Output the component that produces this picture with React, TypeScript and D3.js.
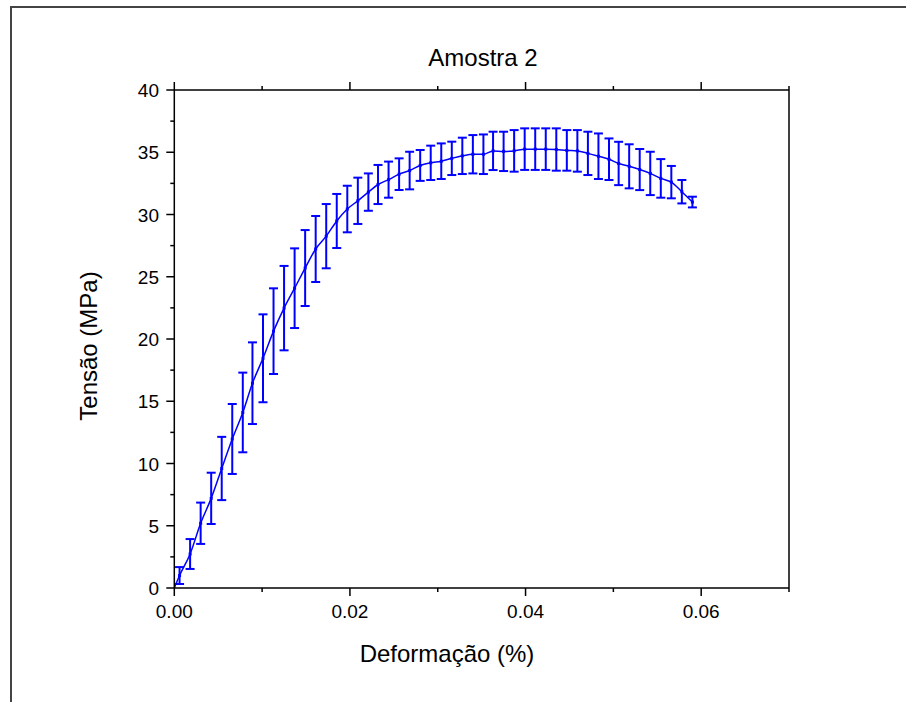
import React from "react";
import * as d3 from "d3";

const strain = [
  0.0006, 0.0018, 0.003, 0.0042, 0.0054, 0.0066, 0.0078, 0.0089, 0.0101, 0.0113,
  0.0125, 0.0137, 0.0149, 0.0161, 0.0173, 0.0185, 0.0197, 0.0209, 0.0221, 0.0232,
  0.0244, 0.0256, 0.0268, 0.028, 0.0292, 0.0304, 0.0316, 0.0328, 0.034, 0.0352,
  0.0363, 0.0375, 0.0387, 0.0399, 0.0411, 0.0423, 0.0435, 0.0447, 0.0459, 0.0471,
  0.0483, 0.0495, 0.0506, 0.0518, 0.053, 0.0542, 0.0554, 0.0566, 0.0578, 0.059,
];
const stress = [
  1.0, 2.73, 5.2, 7.2, 9.6, 11.97, 14.1, 16.45, 18.45, 20.63,
  22.48, 24.08, 25.7, 27.23, 28.26, 29.48, 30.44, 31.1, 31.8, 32.41,
  32.8, 33.24, 33.53, 33.94, 34.15, 34.28, 34.51, 34.71, 34.84, 34.84,
  35.11, 35.07, 35.11, 35.25, 35.25, 35.25, 35.22, 35.15, 35.11, 34.91,
  34.68, 34.44, 34.1, 33.87, 33.61, 33.3, 32.9, 32.6, 31.83, 31.0,
];
const stressErr = [
  0.68, 1.2, 1.66, 2.06, 2.54, 2.81, 3.2, 3.28, 3.53, 3.44,
  3.39, 3.2, 3.05, 2.65, 2.58, 2.17, 1.87, 1.86, 1.5, 1.57,
  1.45, 1.27, 1.51, 1.24, 1.38, 1.43, 1.34, 1.46, 1.54, 1.59,
  1.54, 1.58, 1.67, 1.67, 1.67, 1.67, 1.7, 1.63, 1.67, 1.74,
  1.83, 1.67, 1.74, 1.77, 1.65, 1.74, 1.55, 1.3, 0.94, 0.43,
];
const originPoint = [0, 0];

const xMajorTicks = [0, 0.02, 0.04, 0.06];
const xMinorTicks = [0.01, 0.03, 0.05, 0.07];
const yMajorTicks = [0, 5, 10, 15, 20, 25, 30, 35, 40];
const yMinorTicks = [2.5, 7.5, 12.5, 17.5, 22.5, 27.5, 32.5, 37.5];

const title = "Amostra 2";
const xTitle = "Deformação (%)";
const yTitle = "Tensão (MPa)";

const FONT = "'Liberation Sans', Arial, sans-serif";
const BLUE = "#0000ff";

export default function App() {
  const W = 906;
  const H = 702;
  const x = d3.scaleLinear().domain([0, 0.07]).range([174.3, 789]);
  const y = d3.scaleLinear().domain([0, 40]).range([588, 90]);
  const [x0, x1] = x.range();
  const [y0, y1] = y.range();

  const pts: [number, number][] = [
    [originPoint[0], originPoint[1]],
    ...strain.map((s, i) => [s, stress[i]] as [number, number]),
  ];
  const line = d3
    .line<[number, number]>()
    .x((d) => x(d[0]))
    .y((d) => y(d[1]))
    .curve(d3.curveMonotoneX);

  const fmtX = d3.format(".2f");
  const MAJ = 8;
  const MIN = 4;
  const cap = 4.5;

  return (
    <svg
      width={W}
      height={H}
      style={{ position: "absolute", left: 0, top: 0, background: "#fff" }}
      fontFamily={FONT}
    >
      <rect x={0} y={0} width={W} height={H} fill="#fff" />
      {/* page frame */}
      <path d={`M11,${H + 2} L11,7 L${W + 2},7`} fill="none" stroke="#444" strokeWidth={2} />

      {/* title */}
      <text x={483} y={66} textAnchor="middle" fontSize={24} fill="#000">
        {title}
      </text>

      {/* data line */}
      <path d={line(pts) || ""} fill="none" stroke={BLUE} strokeWidth={1.5} />

      {/* error bars */}
      {strain.map((s, i) => {
        const cx = x(s);
        const top = y(stress[i] + stressErr[i]);
        const bot = y(stress[i] - stressErr[i]);
        return (
          <g key={i} stroke={BLUE} strokeWidth={2}>
            <line x1={cx} x2={cx} y1={top} y2={bot} />
            <line x1={cx - cap} x2={cx + cap} y1={top} y2={top} />
            <line x1={cx - cap} x2={cx + cap} y1={bot} y2={bot} />
          </g>
        );
      })}
      {strain.map((s, i) => (
        <rect key={"m" + i} x={x(s) - 1.5} y={y(stress[i]) - 1.5} width={3} height={3} fill={BLUE} />
      ))}

      {/* axes box */}
      <g stroke="#000" strokeWidth={1.5} fill="none">
        <line x1={x0} x2={x1} y1={y0} y2={y0} />
        <line x1={x0} x2={x1} y1={y1} y2={y1} />
        <line x1={x0} x2={x0} y1={y0} y2={y1} />
        <line x1={x1} x2={x1} y1={y0} y2={y1} />
        {xMajorTicks.map((t) => (
          <g key={"xM" + t}>
            <line x1={x(t)} x2={x(t)} y1={y0} y2={y0 + MAJ} />
            <line x1={x(t)} x2={x(t)} y1={y1} y2={y1 - MAJ} />
          </g>
        ))}
        {xMinorTicks.map((t) => (
          <g key={"xm" + t}>
            <line x1={x(t)} x2={x(t)} y1={y0} y2={y0 + MIN} />
            <line x1={x(t)} x2={x(t)} y1={y1} y2={y1 - MIN} />
          </g>
        ))}
        {yMajorTicks.map((t) => (
          <line key={"yM" + t} x1={x0} x2={x0 - MAJ} y1={y(t)} y2={y(t)} />
        ))}
        {yMinorTicks.map((t) => (
          <line key={"ym" + t} x1={x0} x2={x0 - MIN} y1={y(t)} y2={y(t)} />
        ))}
      </g>

      {/* tick labels */}
      {xMajorTicks.map((t) => (
        <text key={"xl" + t} x={x(t)} y={618} textAnchor="middle" fontSize={19} fill="#000">
          {fmtX(t)}
        </text>
      ))}
      {yMajorTicks.map((t) => (
        <text key={"yl" + t} x={159} y={y(t) + 7} textAnchor="end" fontSize={19} fill="#000">
          {t}
        </text>
      ))}

      {/* axis titles */}
      <text x={447} y={662} textAnchor="middle" fontSize={24} fill="#000">
        {xTitle}
      </text>
      <text
        transform={`translate(97,346) rotate(-90)`}
        textAnchor="middle"
        fontSize={24}
        fill="#000"
      >
        {yTitle}
      </text>
    </svg>
  );
}
